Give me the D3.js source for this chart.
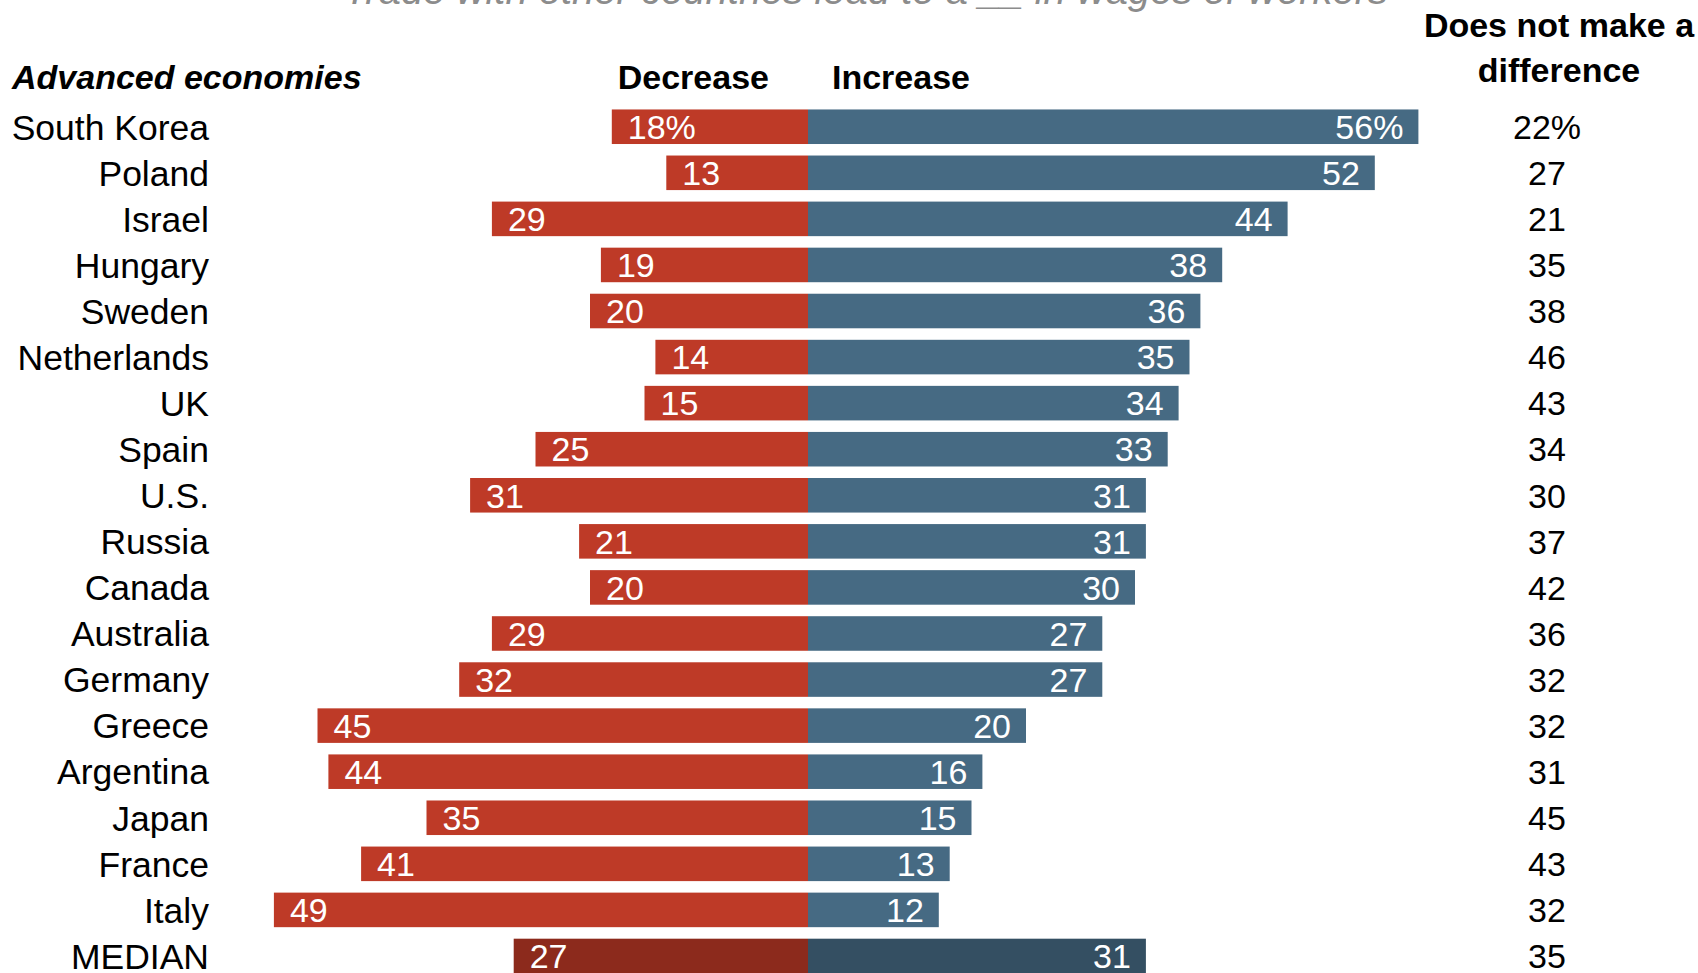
<!DOCTYPE html>
<html><head><meta charset="utf-8">
<script src="https://cdn.jsdelivr.net/npm/d3@7"></script>
<style>
html,body{margin:0;padding:0;background:#fff;}
svg{display:block;}
text{font-family:"Liberation Sans",Arial,sans-serif;}
</style></head>
<body>
<script>
const countries = ["South Korea","Poland","Israel","Hungary","Sweden","Netherlands","UK","Spain","U.S.","Russia","Canada","Australia","Germany","Greece","Argentina","Japan","France","Italy","MEDIAN"];
const decrease = [18,13,29,19,20,14,15,25,31,21,20,29,32,45,44,35,41,49,27];
const increase = [56,52,44,38,36,35,34,33,31,31,30,27,27,20,16,15,13,12,31];
const noDifference = [22,27,21,35,38,46,43,34,30,37,42,36,32,32,31,45,43,32,35];

const W = 1698, H = 973;
const svg = d3.select("body").append("svg").attr("width", W).attr("height", H);

const x = d3.scaleLinear().domain([-50, 60]).range([808 - 545, 808 + 654]);
const y = d3.scaleBand().domain(countries).range([103.7, 979]).paddingInner(0.25).paddingOuter(0.125);

const rows = countries.map((c, i) => ({c, d: decrease[i], inc: increase[i], n: noDifference[i], i, median: c === "MEDIAN"}));

const fs = 34;
// title
svg.append("text").attr("x", 866).attr("y", 4).attr("text-anchor", "middle")
  .attr("font-size", 40).attr("font-style", "italic").attr("fill", "#8c8c8c")
  .text("Trade with other countries lead to a __ in wages of workers");

// headers
const hs = 34;
svg.append("text").attr("x", 12).attr("y", 77).attr("dy", "0.35em").attr("font-size", hs)
  .attr("font-weight", "bold").attr("font-style", "italic").attr("fill", "#000").text("Advanced economies");
svg.append("text").attr("x", 769).attr("y", 77).attr("dy", "0.35em").attr("text-anchor", "end").attr("font-size", hs)
  .attr("font-weight", "bold").attr("fill", "#000").text("Decrease");
svg.append("text").attr("x", 832).attr("y", 77).attr("dy", "0.35em").attr("font-size", hs)
  .attr("font-weight", "bold").attr("fill", "#000").text("Increase");
svg.append("text").attr("x", 1559).attr("y", 25).attr("dy", "0.35em").attr("text-anchor", "middle").attr("font-size", hs)
  .attr("font-weight", "bold").attr("fill", "#000").text("Does not make a");
svg.append("text").attr("x", 1559).attr("y", 70).attr("dy", "0.35em").attr("text-anchor", "middle").attr("font-size", hs)
  .attr("font-weight", "bold").attr("fill", "#000").text("difference");

const g = svg.append("g");
const row = g.selectAll("g.row").data(rows).join("g").attr("class", "row");

row.append("rect")
  .attr("x", d => x(-d.d)).attr("y", d => y(d.c))
  .attr("width", d => x(0) - x(-d.d)).attr("height", y.bandwidth())
  .attr("fill", d => d.median ? "#8c2a1c" : "#be3a27");
row.append("rect")
  .attr("x", x(0)).attr("y", d => y(d.c))
  .attr("width", d => x(d.inc) - x(0)).attr("height", y.bandwidth())
  .attr("fill", d => d.median ? "#344f62" : "#466a83");

const cy = d => y(d.c) + y.bandwidth() / 2;
row.append("text").attr("x", 209).attr("y", cy).attr("dy", "0.36em").attr("text-anchor", "end")
  .attr("font-size", 35.5).attr("fill", "#000").text(d => d.c);
row.append("text").attr("x", d => x(-d.d) + 16).attr("y", cy).attr("dy", "0.36em")
  .attr("font-size", fs).attr("fill", "#fff").text(d => d.d + (d.i === 0 ? "%" : ""));
row.append("text").attr("x", d => x(d.inc) - 15).attr("y", cy).attr("dy", "0.36em").attr("text-anchor", "end")
  .attr("font-size", fs).attr("fill", "#fff").text(d => d.inc + (d.i === 0 ? "%" : ""));
row.append("text").attr("x", 1547).attr("y", cy).attr("dy", "0.36em").attr("text-anchor", "middle")
  .attr("font-size", fs).attr("fill", "#000").text(d => d.n + (d.i === 0 ? "%" : ""));
</script>
</body></html>
